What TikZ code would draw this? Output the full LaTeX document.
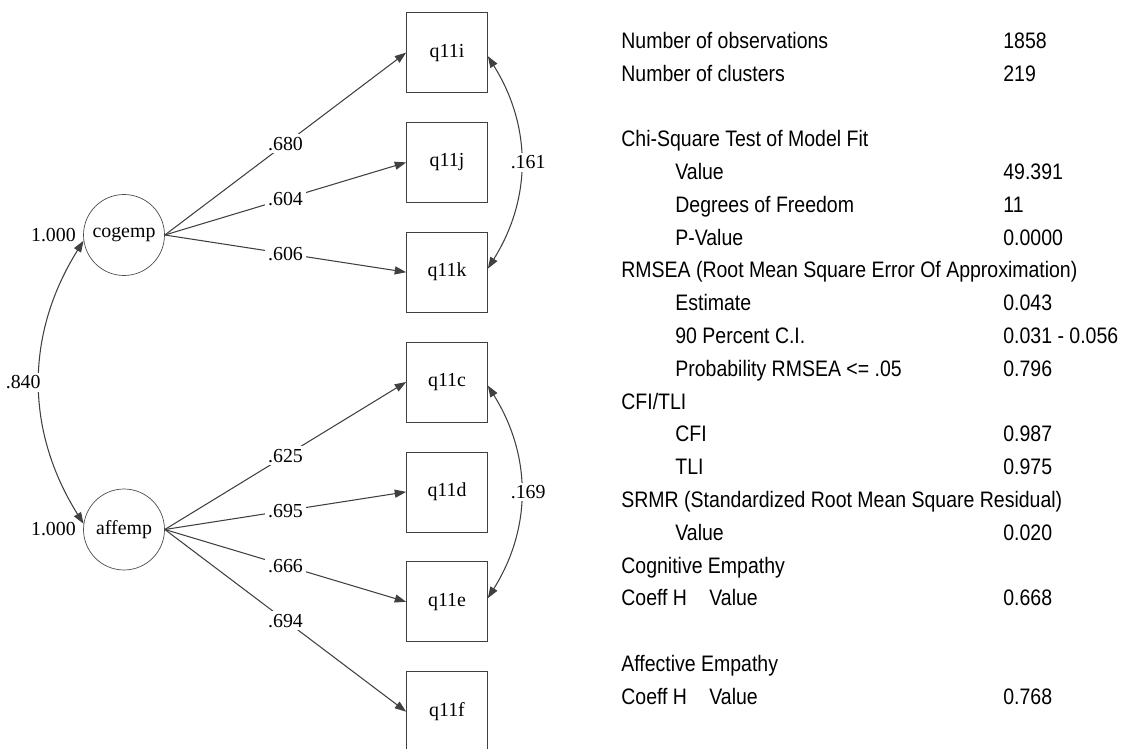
\documentclass[tikz,border=0pt]{standalone}
\usepackage{fontspec}
\setmainfont{Liberation Serif}
\newfontfamily\fitfont{Liberation Sans}[FakeStretch=0.87]
\usetikzlibrary{arrows.meta}

\begin{document}
\begin{tikzpicture}[x=0.02cm, y=-0.02cm,
  font=\fontsize{11.3}{13}\selectfont,
  obs/.style={draw=black!75, minimum width=1.62cm, minimum height=1.6cm, inner sep=0pt},
  lat/.style={draw=black!70, circle, minimum size=1.62cm, inner sep=0pt},
  load/.style={draw=black!75, line width=0.6pt, -{Triangle[length=6.5pt,width=4.6pt]}},
  cov/.style={draw=black!75, line width=0.6pt, {Triangle[length=6.5pt,width=4.6pt]}-{Triangle[length=6.5pt,width=4.6pt]}},
  est/.style={fill=white, inner sep=1.5pt},
  fitrow/.style={anchor=base west, inner sep=0pt, font=\fitfont\fontsize{12.75}{14}\selectfont}]
\useasboundingbox (0,0) rectangle (1125,749);

% factors
\node[lat] (cogemp) at (124,235) {cogemp};
\node[lat] (affemp) at (124,529.5) {affemp};
\node[left=3pt, inner sep=1pt] (cogvar) at (cogemp.west) {1.000};
\node[left=3pt, inner sep=1pt] (affvar) at (affemp.west) {1.000};

% indicators
\node[obs] (q11i) at (447,52.6) {q11i};
\node[obs] (q11j) at (447,162.4) {q11j};
\node[obs] (q11k) at (447,272.2) {q11k};
\node[obs] (q11c) at (447,382) {q11c};
\node[obs] (q11d) at (447,491.9) {q11d};
\node[obs] (q11e) at (447,601.8) {q11e};
\node[obs] (q11f) at (447,711.7) {q11f};

% loadings
\draw[load] (cogemp.east) -- node[est] {.680} (q11i.west);
\draw[load] (cogemp.east) -- node[est] {.604} (q11j.west);
\draw[load] (cogemp.east) -- node[est] {.606} (q11k.west);
\draw[load] (affemp.east) -- node[est] {.625} (q11c.west);
\draw[load] (affemp.east) -- node[est] {.695} (q11d.west);
\draw[load] (affemp.east) -- node[est] {.666} (q11e.west);
\draw[load] (affemp.east) -- node[est] {.694} (q11f.west);

% correlations
\draw[cov] (cogemp.188) to[bend right=32] node[est, anchor=east, xshift=2.3pt] {.840} (affemp.172);
\draw[cov] (q11i.-5) to[bend left=32] node[est, anchor=west, xshift=-7.5pt] {.161} (q11k.5);
\draw[cov] (q11c.-5) to[bend left=32] node[est, anchor=west, xshift=-7.5pt] {.169} (q11e.5);

% fit statistics
\foreach \k/\ind/\txt/\val in {
  0/0/Number of observations/1858,
  1/0/Number of clusters/219,
  3/0/Chi-Square Test of Model Fit/,
  4/1/Value/49.391,
  5/1/Degrees of Freedom/11,
  6/1/P-Value/0.0000,
  7/0/RMSEA (Root Mean Square Error Of Approximation)/,
  8/1/Estimate/0.043,
  9/1/90 Percent C.I./0.031 - 0.056,
  10/1/Probability RMSEA <= .05/0.796,
  11/0/{CFI/TLI}/,
  12/1/CFI/0.987,
  13/1/TLI/0.975,
  14/0/SRMR (Standardized Root Mean Square Residual)/,
  15/1/Value/0.020,
  16/0/Cognitive Empathy/,
  17/0/Coeff H/0.668,
  19/0/Affective Empathy/,
  20/0/Coeff H/0.768}
{
  \node[fitrow] (t\k) at ({621+54*\ind}, {48.3+32.8*\k}) {\txt};
  \node[fitrow] (v\k) at (1003, {48.3+32.8*\k}) {\val};
}
\node[fitrow] (h17) at (709, {48.3+32.8*17}) {Value};
\node[fitrow] (h20) at (709, {48.3+32.8*20}) {Value};
\end{tikzpicture}
\end{document}
